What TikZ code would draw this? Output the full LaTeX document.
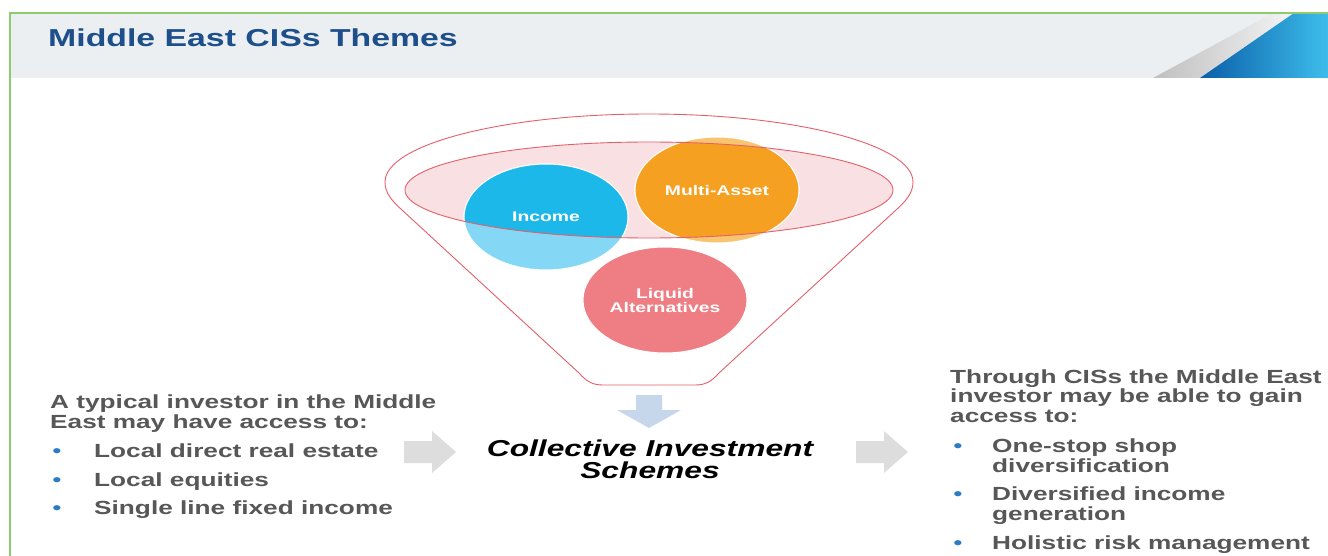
\documentclass[tikz,border=0pt]{standalone}
\usepackage{fontspec}
\setmainfont{Liberation Sans}[FakeStretch=1.38]
\usetikzlibrary{positioning,shapes.geometric}

\definecolor{bandgray}{HTML}{ECEFF2}
\definecolor{framegreen}{HTML}{8CCB6E}
\definecolor{titleblue}{HTML}{1D4F8A}
\definecolor{emblemdark}{HTML}{0B5FA9}
\definecolor{emblemlight}{HTML}{3DBDEB}
\definecolor{bodygray}{HTML}{575757}
\definecolor{dotblue}{HTML}{2A7CC7}
\definecolor{funnelred}{HTML}{E5606A}
\definecolor{rimpink}{HTML}{F9E0E3}
\definecolor{incomeblue}{HTML}{1DB8EA}
\definecolor{incomelight}{HTML}{84D7F5}
\definecolor{assetorange}{HTML}{F5A020}
\definecolor{assetlight}{HTML}{F9C46F}
\definecolor{altred}{HTML}{EE7E84}
\definecolor{arrowgray}{HTML}{DDDDDD}
\definecolor{arrowblue}{HTML}{C6D6EB}

\tikzset{
	pagetitle/.style={
		font=\fontsize{24.5}{26}\selectfont\bfseries,
		text=titleblue,
		anchor=base west,
		inner sep=0pt},
	blocktext/.style={
		font=\fontsize{19}{19.5}\selectfont\bfseries,
		text=bodygray,
		align=left,
		anchor=base west,
		inner sep=0pt},
	itemdot/.style={
		font=\fontsize{19}{19.5}\selectfont,
		text=dotblue,
		anchor=base,
		inner sep=0pt},
	assetshape/.style={
		ellipse,
		draw=white,
		line width=1pt,
		minimum width=164pt,
		minimum height=106pt},
	assetlabel/.style={
		font=\fontsize{14}{14}\selectfont\bfseries,
		text=white,
		align=center},
	schemes/.style={
		font=\fontsize{23}{21.5}\selectfont\bfseries\itshape,
		align=center,
		anchor=base,
		inner sep=0pt},
	funnel/.style={
		draw=funnelred,
		line width=0.9pt}
}

\begin{document}
\begin{tikzpicture}[x=1pt, y=-1pt, node distance=1cm]
	\useasboundingbox (0,0) rectangle (1328,556);
	\fill[white] (0,0) rectangle (1328,556);

	% title band and corner emblem
	\fill[bandgray] (10,13) rectangle (1328,78);
	\shade[left color=gray!50, right color=gray!8] (1153,78) -- (1273,13) -- (1296,13) -- (1200,78) -- cycle;
	\shade[left color=emblemdark, right color=emblemlight] (1200,78) -- (1294,13) -- (1328,13) -- (1328,78) -- cycle;
	\draw[framegreen, line width=1.5pt] (10,556) -- (10,13) -- (1328,13);
	\node[pagetitle] (title) at (48,47) {Middle East CISs Themes};

	% the funnel
	\draw[funnel] (385,182) arc[start angle=180, end angle=360, x radius=264, y radius=68]
		.. controls (913,193) and (906,201) .. (896,210) -- (719,373)
		.. controls (711,382) and (705,385) .. (695,385) -- (603,385)
		.. controls (593,385) and (587,382) .. (579,373) -- (402,210)
		.. controls (392,201) and (385,193) .. cycle;
	\fill[rimpink] (649,190) ellipse [x radius=244, y radius=48];

	\node[assetshape, fill=incomelight] (inc) at (546,217) {};
	\node[assetshape, fill=assetlight] (multi) at (717,190) {};
	\node[assetshape, fill=altred] (liq) at (665,300) {};
	\begin{scope}
		\clip (649,190) ellipse [x radius=244, y radius=48];
		\node[assetshape, fill=incomeblue] at (inc) {};
		\node[assetshape, fill=assetorange] at (multi) {};
	\end{scope}
	\draw[funnel] (649,190) ellipse [x radius=244, y radius=48];

	\node[assetlabel] (incl) at (inc) {Income};
	\node[assetlabel] (multil) at (multi) {Multi-Asset};
	\node[assetlabel] (liql) at (liq) {Liquid\\Alternatives};

	% block arrows
	\fill[arrowblue] (636,395) -- (662,395) -- (662,410) -- (681,410) -- (649,428) -- (617,410) -- (636,410) -- cycle;
	\fill[arrowgray] (404,441) -- (432,441) -- (432,431) -- (456,452) -- (432,473) -- (432,463) -- (404,463) -- cycle;
	\fill[arrowgray] (856,441) -- (884,441) -- (884,431) -- (908,452) -- (884,473) -- (884,463) -- (856,463) -- cycle;

	% multi-line nodes sit on their last baseline
	\node[schemes] (cis) at (650,478) {Collective Investment\\Schemes};

	% what the investor has today
	\node[blocktext] (lhead) at (50,428) {A typical investor in the Middle\\East may have access to:};
	\node[blocktext] (li1) at (94,457) {Local direct real estate};
	\node[blocktext] (li2) at (94,486) {Local equities};
	\node[blocktext] (li3) at (94,514) {Single line fixed income};
	\foreach \y [count=\i] in {457,486,514}
		\node[itemdot] (ld\i) at (57,\y) {•};

	% what CISs can offer
	\node[blocktext] (rhead) at (950,422) {Through CISs the Middle East\\investor may be able to gain\\access to:};
	\node[blocktext] (ri1) at (992,472) {One-stop shop\\diversification};
	\node[blocktext] (ri2) at (992,520) {Diversified income\\generation};
	\node[blocktext] (ri3) at (992,549) {Holistic risk management};
	\foreach \y [count=\i] in {452,500,549}
		\node[itemdot] (rd\i) at (958,\y) {•};
\end{tikzpicture}
\end{document}
